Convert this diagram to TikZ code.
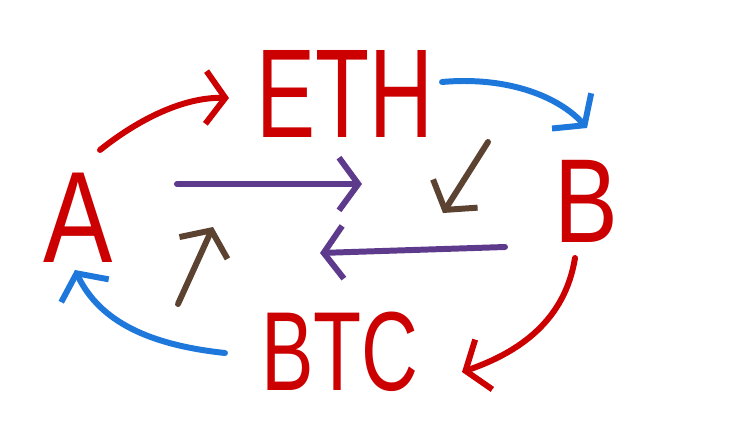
\documentclass[tikz,border=0pt]{standalone}
\usepackage{fontspec}
\newfontfamily\handfont[FakeStretch=0.7]{Liberation Sans}
\newfontfamily\widehandfont[FakeStretch=0.8]{Liberation Sans}
\usetikzlibrary{arrows.meta}
\definecolor{pen}{HTML}{CC0000}
\definecolor{sky}{HTML}{1E78DC}
\definecolor{plum}{HTML}{5E3A8C}
\definecolor{bark}{HTML}{5C4331}

\begin{document}
\begin{tikzpicture}[x=.02cm,y=-.02cm,
  word/.style={text=pen,font=\handfont\fontsize{72}{72}\selectfont,inner sep=0pt},
  stroke/.style={line width=3.4pt,line cap=round,line join=round,
    -{Straight Barb[length=11pt,width=30pt]}},
  redarrow/.style={stroke,draw=pen},
  bluearrow/.style={stroke,draw=sky},
  purplearrow/.style={stroke,draw=plum},
  brownarrow/.style={stroke,draw=bark}
]
\fill[white] (0,0) rectangle (750,447);
\node[word,font=\widehandfont\fontsize{74}{74}\selectfont] (A) at (78,218) {A};
\node[word] (ETH) at (345,94) {ETH};
\node[word,font=\widehandfont\fontsize{68}{68}\selectfont] (B) at (586,201) {B};
\node[word,font=\handfont\fontsize{64}{64}\selectfont] (BTC) at (340,352) {BTC};
\coordinate (A-out) at (100,150);
\coordinate (A-in) at (75,270);
\coordinate (ETH-in) at (229,98);
\coordinate (ETH-out) at (442,82);
\coordinate (B-in) at (587,128);
\coordinate (B-out) at (575,258);
\coordinate (BTC-in) at (462,372);
\coordinate (BTC-out) at (225,353);
\draw[redarrow] (A-out) .. controls (140,118) and (185,97) .. (ETH-in);
\draw[bluearrow] (ETH-out) .. controls (510,76) and (560,98) .. (B-in);
\draw[redarrow] (B-out) .. controls (565,320) and (520,352) .. (BTC-in);
\draw[bluearrow] (BTC-out) .. controls (150,345) and (100,322) .. (A-in);
\coordinate (mid-right-from) at (177,184);
\coordinate (mid-right-to) at (362,184);
\coordinate (mid-left-from) at (505,247);
\coordinate (mid-left-to) at (320,253);
\draw[purplearrow] (mid-right-from) -- (mid-right-to);
\draw[purplearrow] (mid-left-from) -- (mid-left-to);
\coordinate (diag-from) at (488,142);
\coordinate (diag-to) at (443,213);
\coordinate (up-from) at (178,304);
\coordinate (up-to) at (213,227);
\draw[brownarrow] (diag-from) -- (diag-to);
\draw[brownarrow] (up-from) -- (up-to);
\end{tikzpicture}
\end{document}
